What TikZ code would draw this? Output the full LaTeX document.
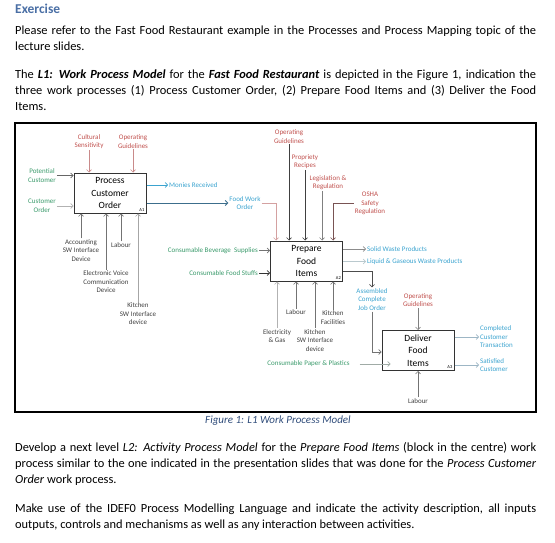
\documentclass[tikz,border=0pt]{standalone}
\usepackage{fontspec}
\setmainfont{Carlito}
\usepackage{tikz}
\usetikzlibrary {arrows.meta,
                 positioning,
                 calc}
\definecolor{ctrlred}{HTML}{C0504D}
\definecolor{ingreen}{HTML}{3A9A6B}
\definecolor{outblue}{HTML}{3BA3CF}
\definecolor{mechgray}{HTML}{404040}
\definecolor{headblue}{HTML}{4A6FA5}
\definecolor{capblue}{HTML}{2F4C7A}
\definecolor{rose}{HTML}{C98A8A}
\definecolor{steel}{HTML}{3C6E8C}
\tikzset{
    lbl/.style={align=center, inner sep=1pt, font=\fontsize{7}{8.5}\selectfont},
    proc/.style={draw=black!80, line width=1pt, minimum width=72pt,
                 minimum height=40pt, align=center,
                 font=\fontsize{9.5}{12.5}\selectfont},
    ctrl/.style={lbl, text=ctrlred},
    inp/.style={lbl, text=ingreen},
    outp/.style={lbl, text=outblue},
    mech/.style={lbl, text=mechgray},
    tag/.style={font=\fontsize{4.5}{5}\selectfont, inner sep=1pt, anchor=south east},
    para/.style={anchor=north west, inner sep=0pt, text width=521pt,
                 align=justify, font=\fontsize{12.4}{16}\selectfont},
    myarrow/.style={-{Straight Barb[length=2.5pt,width=5pt]}, line width=0.6pt, draw=black!55},
}

\begin{document}
\begin{tikzpicture}[x=1pt, y=-1pt]
    \useasboundingbox (0,0) rectangle (555,543);

    \node[anchor=base west, inner sep=0pt, text=headblue,
          font=\fontsize{13.5}{16}\selectfont\bfseries] (title) at (15,13.5) {Exercise};
    \node[para] (p1) at (15,23.3) {\strut Please refer to the Fast Food Restaurant example in the Processes and Process Mapping topic of the\linebreak lecture slides.};
    \node[para] (p2) at (15,67.3) {\strut The \textbf{\textit{L1: Work Process Model}} for the \textbf{\textit{Fast Food Restaurant}} is depicted in the Figure 1, indication the\linebreak three work processes (1) Process Customer Order, (2) Prepare Food Items and (3) Deliver the Food\linebreak Items.};

    % figure frame
    \draw[line width=1.3pt] (15,123) rectangle (536,412);

    % the three work processes
    \node[proc] (pco) at (110,193) {Process\\Customer\\Order};
    \node[proc] (pfi) at (306.5,261) {Prepare\\Food\\Items};
    \node[proc] (dfi) at (418,350.5) {Deliver\\Food\\Items};
    \node[tag] (t1) at ($(pco.south east)+(-1,-1)$) {A1};
    \node[tag] (t2) at ($(pfi.south east)+(-1,-1)$) {A2};
    \node[tag] (t3) at ($(dfi.south east)+(-1,-1)$) {A3};

    % A1
    \node[ctrl] (cult) at (89,141.5) {Cultural\\Sensitivity};
    \node[ctrl] (og1) at (133,141.5) {Operating\\Guidelines};
    \node[inp] (potc) at (42,175.5) {Potential\\Customer};
    \node[inp] (cord) at (42,206) {Customer\\Order};
    \node[mech] (acc) at (81,250.5) {Accounting\\SW Interface\\Device};
    \node[mech] (evc) at (106,282) {Electronic Voice\\Communication\\Device};
    \node[mech] (lab1) at (121,245) {Labour};
    \node[mech] (ksw1) at (138,314) {Kitchen\\SW Interface\\device};
    \node[outp, anchor=west] (mon) at (168,185) {Monies Received};
    \node[outp] (fwo) at (245,203) {Food Work\\Order};

    \draw[myarrow, draw=rose] (cult.south) -- (cult.south |- pco.north);
    \draw[myarrow, draw=rose] (og1.south) -- (og1.south |- pco.north);
    \draw[myarrow, draw=black!60] (potc.east) -- (potc.east -| pco.west);
    \draw[myarrow, draw=black!30] (cord.east) -- (cord.east -| pco.west);
    \draw[myarrow] (acc.north) -- (acc.north |- pco.south);
    \draw[myarrow] (evc.north) -- (evc.north |- pco.south);
    \draw[myarrow] (lab1.north) -- (lab1.north |- pco.south);
    \draw[myarrow, draw=black!35] (ksw1.north) -- (ksw1.north |- pco.south);
    \draw[myarrow, draw=outblue] (pco.east |- mon.west) -- (mon.west);
    \draw[myarrow, draw=steel, line width=0.9pt] (pco.east |- fwo.west) -- (fwo.west);

    % A2
    \node[ctrl] (og2) at (289,136.5) {Operating\\Guidelines};
    \node[ctrl] (prec) at (305,161.5) {Propriety\\Recipes};
    \node[ctrl] (leg) at (328,182.5) {Legislation \&\\Regulation};
    \node[ctrl] (osha) at (370,203.5) {OSHA\\Safety\\Regulation};
    \node[inp, anchor=east] (cbs) at (259,250.5) {Consumable Beverage\ \ Supplies};
    \node[inp, anchor=east] (cfs) at (259,273) {Consumable Food Stuffs};
    \node[mech] (eg) at (277,336) {Electricity\\\& Gas};
    \node[mech] (lab2) at (296,312.5) {Labour};
    \node[mech] (ksw2) at (315,340.5) {Kitchen\\SW Interface\\device};
    \node[mech] (kf) at (333,317.5) {Kitchen\\Facilities};
    \node[outp, anchor=west] (swp) at (366,249) {Solid Waste Products};
    \node[outp, anchor=west] (lgw) at (366,261.5) {Liquid \& Gaseous Waste Products};
    \node[outp] (acj) at (372,299.5) {Assembled\\Complete\\Job Order};
    \coordinate (pfo) at ($(pfi.south east)+(0,-10)$);

    \draw[myarrow, draw=rose!80] (fwo.east) -| ($(pfi.north west)+(6,0)$);
    \draw[myarrow, draw=black!75] (og2.south) -- (og2.south |- pfi.north);
    \draw[myarrow, draw=black!75] (prec.south) -- (prec.south |- pfi.north);
    \draw[myarrow, draw=black!50] ([xshift=-6pt]leg.south) -- ([xshift=-6pt]leg.south |- pfi.north);
    \draw[myarrow, draw=rose!60!black] (osha.west) -| ($(pfi.north west)+(63,0)$);
    \draw[myarrow] (cbs.east) -- (cbs.east -| pfi.west);
    \draw[myarrow, draw=black!80] (cfs.east) -- (cfs.east -| pfi.west);
    \draw[myarrow, draw=black!30] (eg.north) -- (eg.north |- pfi.south);
    \draw[myarrow] (lab2.north) -- (lab2.north |- pfi.south);
    \draw[myarrow] (ksw2.north) -- (ksw2.north |- pfi.south);
    \draw[myarrow] (kf.north) -- (kf.north |- pfi.south);
    \draw[myarrow, draw=black!45] (pfi.east |- swp.west) -- (swp.west);
    \draw[myarrow, draw=outblue!45!black!30] (pfi.east |- lgw.west) -- (lgw.west);
    \draw[myarrow, draw=black!70] (pfo) -| (acj.north);

    % A3
    \node[ctrl] (og3) at (418,300) {Operating\\Guidelines};
    \node[inp] (cpp) at (308.5,364) {Consumable Paper \& Plastics};
    \node[outp, anchor=west, align=left] (cct) at (479,337) {Completed\\Customer\\Transaction};
    \node[outp, anchor=west, align=left] (sc) at (479,365) {Satisfied\\Customer};
    \node[mech] (lab3) at (418,401) {Labour};

    \draw[myarrow] (acj.south) |- ($(dfi.north west)+(0,22)$);
    \draw[myarrow, draw=black!50] (og3.south) -- (og3.south |- dfi.north);
    \draw[myarrow, draw=ingreen!30!black!40] ([xshift=9pt]cpp.east) -- ([xshift=9pt]cpp.east -| dfi.west);
    \draw[myarrow, draw=steel!50] (dfi.east |- cct.west) -- (cct.west);
    \draw[myarrow, draw=steel!50] (dfi.east |- sc.west) -- (sc.west);
    \draw[myarrow] (lab3.north) -- (lab3.north |- dfi.south);

    \node[anchor=base, inner sep=0pt, text=capblue,
          font=\fontsize{11}{13}\selectfont\itshape] (cap) at (278,423.5) {Figure 1: L1 Work Process Model};
    \node[para] (p3) at (15,440.3) {\strut Develop a next level \textit{L2: Activity Process Model} for the \textit{Prepare Food Items} (block in the centre) work\linebreak process similar to the one indicated in the presentation slides that was done for the \textit{Process Customer}\linebreak \textit{Order} work process.};
    \node[para] (p4) at (15,501.3) {\strut Make use of the IDEF0 Process Modelling Language and indicate the activity description, all inputs\linebreak outputs, controls and mechanisms as well as any interaction between activities.};
\end{tikzpicture}
\end{document}
